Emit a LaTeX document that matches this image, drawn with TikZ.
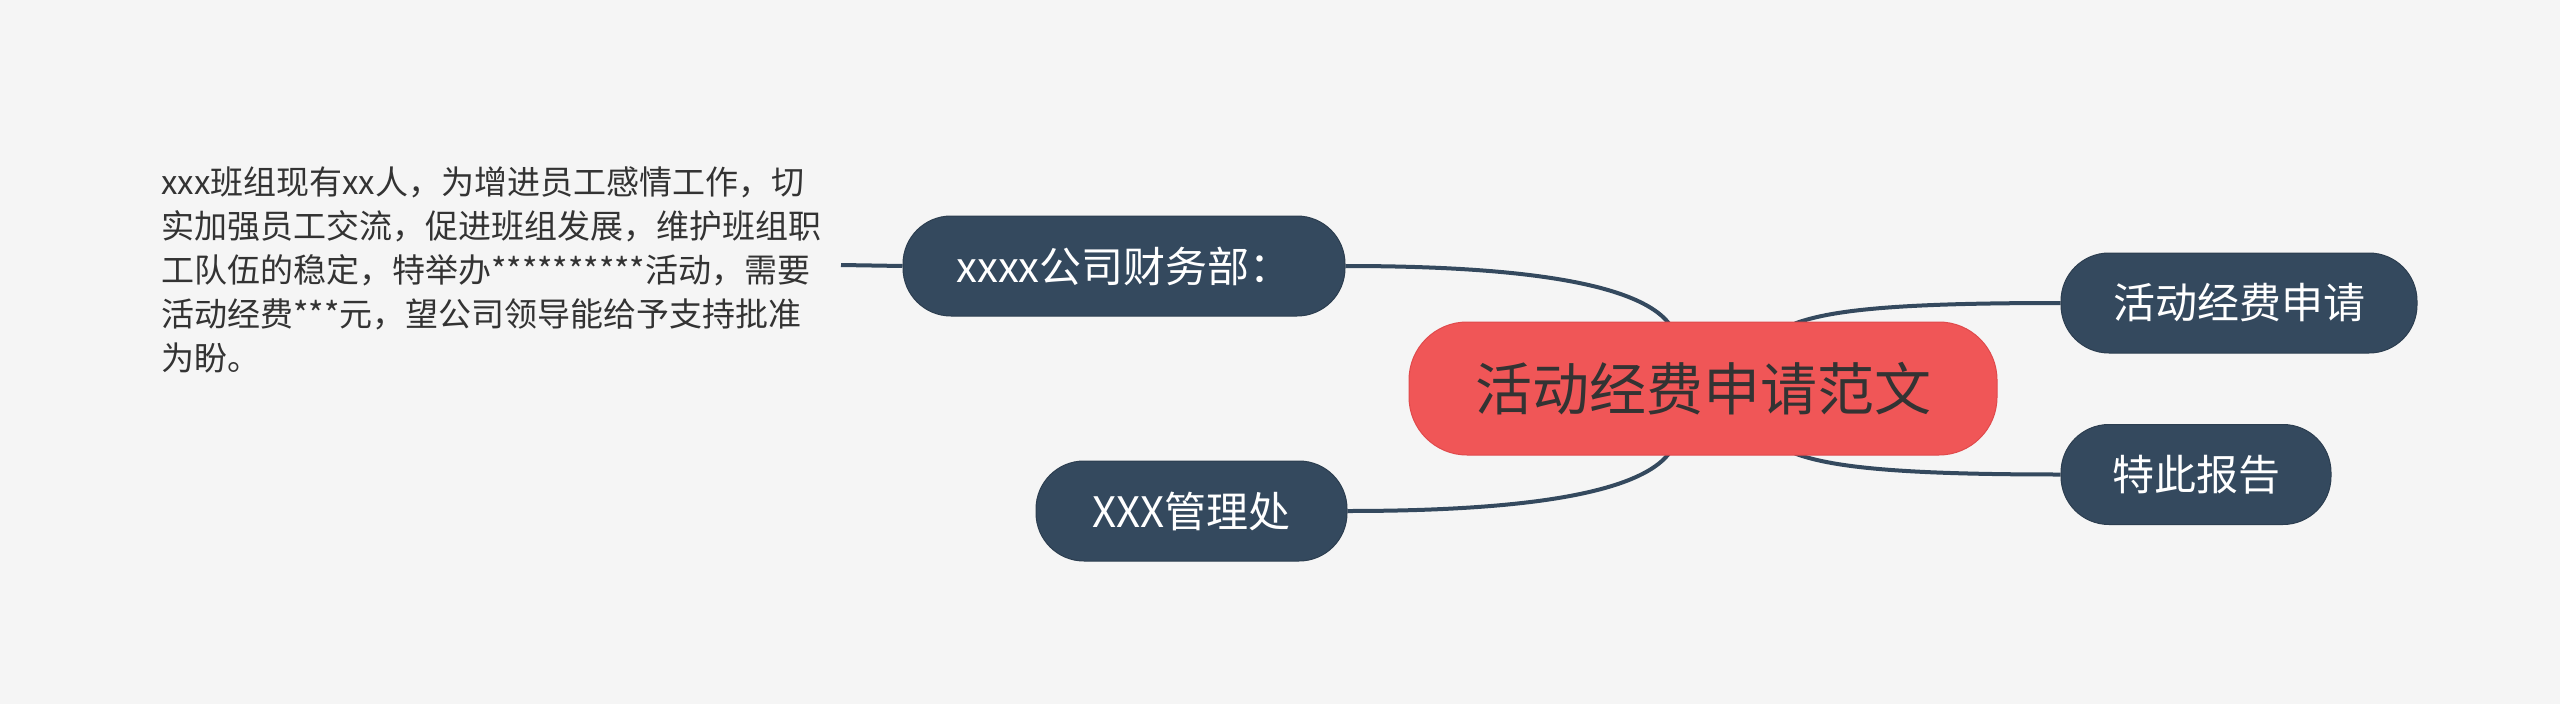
\documentclass[tikz,border=0pt]{standalone}
\usepackage{fontspec}
\newfontfamily\cjk{Noto Sans CJK SC}
\usetikzlibrary{backgrounds,calc}
\definecolor{bgc}{HTML}{F5F5F5}
\definecolor{navy}{HTML}{34495E}
\definecolor{navyline}{HTML}{2C3E50}
\definecolor{redc}{HTML}{F05657}
\definecolor{redline}{HTML}{E04A4C}
\definecolor{txt}{HTML}{333333}
\begin{document}
\begin{tikzpicture}[x=1pt,y=-1pt,
  topic/.style={draw=navyline, line width=1pt, fill=navy, text=white, rounded corners=48pt, minimum height=100pt, inner sep=0pt, font=\cjk\fontsize{42}{50}\selectfont},
  root/.style={draw=redline, line width=1pt, fill=redc, text=txt, rounded corners=58pt, minimum width=588pt, minimum height=133pt, inner sep=0pt, font=\cjk\fontsize{57}{66}\selectfont},
  conn/.style={draw=navy, line width=4pt},
  desctext/.style={text=txt, align=left, inner sep=0pt, font=\cjk\fontsize{33}{44}\selectfont}]
\useasboundingbox (0,0) rectangle (2560,704);
\node[root] (title) at (1703,388.5) {活动经费申请范文};
\node[topic, minimum width=442pt] (fin) at (1124,266) {xxxx公司财务部：};
\node[topic, minimum width=311pt] (mgmt) at (1191.5,511) {XXX管理处};
\node[topic, minimum width=356pt] (apply) at (2239,303) {活动经费申请};
\node[topic, minimum width=270pt] (report) at (2196,474.5) {特此报告};
\node[desctext, anchor=west] (desc) at (161,270) {xxx班组现有xx人，为增进员工感情工作，切\\实加强员工交流，促进班组发展，维护班组职\\工队伍的稳定，特举办**********活动，需要\\活动经费***元，望公司领导能给予支持批准\\为盼。};
\coordinate (dstub) at (841,265);
\begin{pgfonlayer}{background}
\fill[bgc] (0,0) rectangle (2560,704);
\draw[conn] ([xshift=-34pt,yshift=-2pt]title.north) .. controls +(-35,-45) and +(150,0) .. (fin.east);
\draw[conn] ([xshift=-34pt,yshift=2pt]title.south) .. controls +(-35,45) and +(150,0) .. (mgmt.east);
\draw[conn] ([xshift=92pt,yshift=-2pt]title.north) .. controls +(40,-15) and +(-150,0) .. (apply.west);
\draw[conn] ([xshift=92pt,yshift=2pt]title.south) .. controls +(40,15) and +(-150,0) .. (report.west);
\draw[conn] (dstub) -- (fin.west);
\end{pgfonlayer}
\end{tikzpicture}
\end{document}
